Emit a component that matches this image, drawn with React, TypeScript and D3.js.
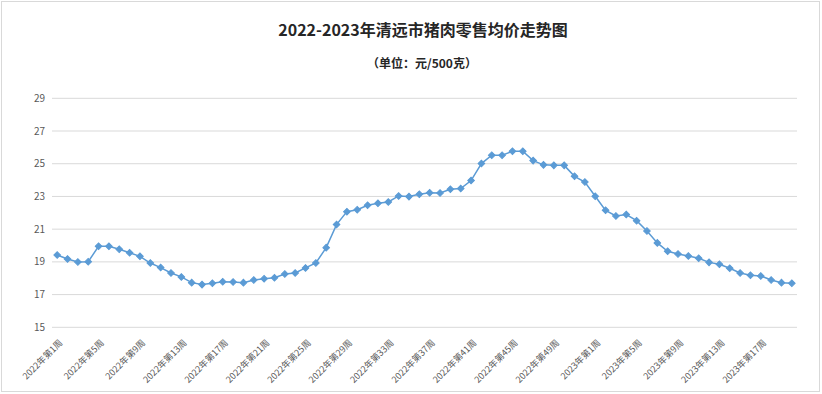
import * as d3 from "d3";

const weeks2022: number[] = d3.range(1, 53);
const weeks2023: number[] = d3.range(1, 21);
const categories: string[] = [
  ...weeks2022.map((w) => `2022年第${w}周`),
  ...weeks2023.map((w) => `2023年第${w}周`),
];

// 元/500克
const prices: number[] = [
  19.42, 19.18, 18.99, 19.01, 19.95, 19.95, 19.77, 19.56, 19.34, 18.93,
  18.65, 18.32, 18.08, 17.73, 17.61, 17.69, 17.79, 17.77, 17.73, 17.89,
  17.97, 18.03, 18.26, 18.32, 18.63, 18.93, 19.87, 21.28, 22.07, 22.19,
  22.46, 22.58, 22.66, 23.03, 22.99, 23.13, 23.23, 23.21, 23.44, 23.48,
  23.97, 25.01, 25.52, 25.52, 25.76, 25.76, 25.19, 24.93, 24.9, 24.9,
  24.23, 23.88, 23.01, 22.15, 21.81, 21.89, 21.52, 20.89, 20.16, 19.65,
  19.48, 19.36, 19.22, 18.97, 18.85, 18.61, 18.32, 18.18, 18.14, 17.89,
  17.73, 17.69,
];

const yTicks: number[] = [15, 17, 19, 21, 23, 25, 27, 29];

const W = 822;
const H = 394;
const left = 52;
const right = 797;
const top = 98.3;
const bottom = 327.3;
const font = "'Noto Sans CJK SC', 'Noto Sans', sans-serif";

export default function App() {
  const x = d3.scaleBand<string>().domain(categories).range([left, right]);
  const y = d3.scaleLinear().domain([15, 29]).range([bottom, top]);
  const cx = (c: string) => (x(c) ?? 0) + x.bandwidth() / 2;

  const line = d3
    .line<number>()
    .x((_, i) => cx(categories[i]))
    .y((d) => y(d));

  // square turned 45deg, like Excel's diamond marker
  const diamond = d3.symbol(d3.symbolSquare, 22)() ?? "";

  return (
    <svg
      width={W}
      height={H}
      style={{ position: "absolute", left: 0, top: 0, background: "#fff" }}
    >
      <rect x={1.5} y={1.5} width={818} height={390} fill="#fff" stroke="#d9d9d9" />

      <text
        x={423}
        y={36}
        textAnchor="middle"
        fontFamily={font}
        fontSize={16}
        fontWeight="bold"
        fill="#262626"
      >
        2022-2023年清远市猪肉零售均价走势图
      </text>
      <text
        x={422}
        y={68}
        textAnchor="middle"
        fontFamily={font}
        fontSize={12}
        fontWeight="bold"
        fill="#262626"
      >
        （单位：元/500克）
      </text>

      {/* gridlines and y labels */}
      {yTicks.map((t) => (
        <g key={t}>
          <line x1={left} x2={right} y1={y(t)} y2={y(t)} stroke="#d9d9d9" strokeWidth={1} />
          <text
            x={45}
            y={y(t)}
            dy="0.35em"
            textAnchor="end"
            fontFamily={font}
            fontSize={10}
            fill="#595959"
          >
            {t}
          </text>
        </g>
      ))}

      {/* x labels every 4 weeks */}
      {categories
        .filter((_, i) => i % 4 === 0)
        .map((c) => (
          <text
            key={c}
            transform={`translate(${cx(c) + 6},${bottom + 16}) rotate(-45)`}
            textAnchor="end"
            fontFamily={font}
            fontSize={9}
            fill="#595959"
          >
            {c}
          </text>
        ))}

      <path d={line(prices) ?? ""} fill="none" stroke="#5b9bd5" strokeWidth={1.5} />
      {prices.map((p, i) => (
        <path
          key={i}
          d={diamond}
          transform={`translate(${cx(categories[i])},${y(p)}) rotate(45)`}
          fill="#5b9bd5"
          stroke="#5b9bd5"
          strokeWidth={1}
        />
      ))}
    </svg>
  );
}
